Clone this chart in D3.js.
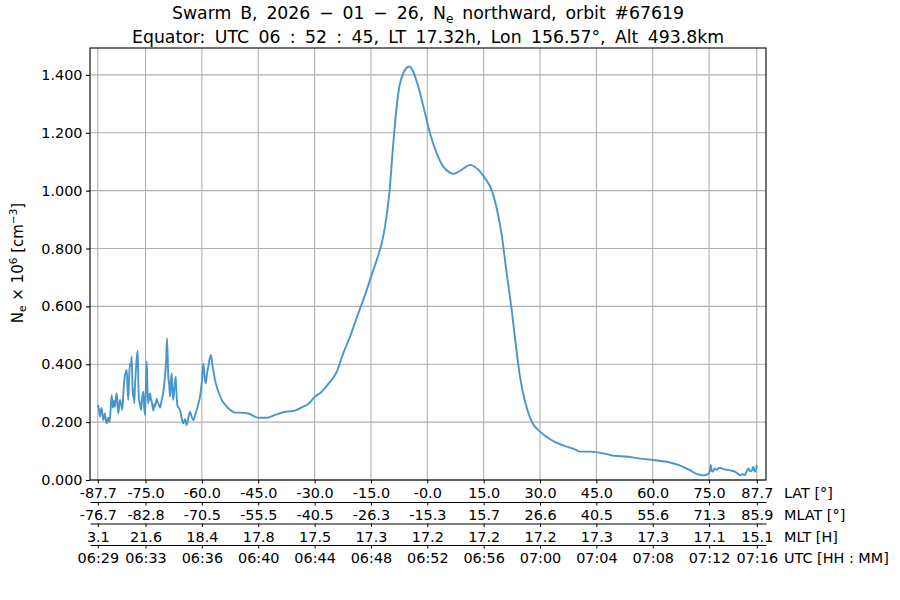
<!DOCTYPE html>
<html><head><meta charset="utf-8">
<script src="https://cdn.jsdelivr.net/npm/d3@7"></script>
<style>
body{margin:0;background:#fff;}
svg text{font-family:"DejaVu Sans",sans-serif;white-space:pre;}
</style></head>
<body><svg id="c" width="900" height="600"></svg>
<script>
// along-track latitude (deg) and electron density (x10^6 cm^-3)
const lat = [-87.70,-87.40,-87.12,-86.90,-86.67,-86.45,-86.24,-86.00,-85.80,-85.55,-85.33,-85.10,-84.90,-84.68,-84.46,-84.20,-84.00,-83.75,-83.55,-83.33,-83.13,-82.90,-82.67,-82.45,-82.25,-82.00,-81.79,-81.50,-81.18,-80.90,-80.65,-80.30,-80.01,-79.80,-79.58,-79.35,-79.13,-78.90,-78.68,-78.41,-78.20,-77.99,-77.80,-77.62,-77.35,-77.08,-76.90,-76.74,-76.45,-76.20,-75.90,-75.59,-75.35,-75.14,-74.90,-74.69,-74.45,-74.26,-74.00,-73.80,-73.55,-73.36,-73.10,-72.90,-72.70,-72.48,-72.25,-72.00,-71.80,-71.60,-71.35,-71.10,-70.90,-70.69,-70.30,-70.00,-69.75,-69.55,-69.28,-68.94,-68.70,-68.49,-68.25,-68.03,-67.80,-67.61,-67.30,-66.97,-66.75,-66.54,-66.20,-65.82,-65.40,-64.95,-64.50,-64.04,-63.60,-63.16,-62.70,-62.28,-61.80,-61.38,-60.90,-60.50,-60.00,-59.62,-59.30,-58.98,-58.60,-58.29,-57.90,-57.57,-57.25,-56.96,-56.50,-56.06,-55.40,-54.72,-53.80,-52.97,-51.18,-49.85,-47.64,-44.98,-42.75,-40.54,-38.33,-35.21,-33.43,-31.67,-29.89,-28.11,-26.35,-24.11,-22.36,-20.57,-18.37,-16.58,-14.80,-13.47,-12.14,-11.26,-10.11,-9.05,-8.33,-7.45,-6.39,-4.79,-3.73,-2.40,-0.61,0.72,2.50,4.26,6.04,7.00,7.83,9.16,11.37,13.15,15.36,17.14,18.47,19.80,21.13,22.46,23.61,24.67,26.00,27.79,30.00,32.66,35.77,39.31,40.64,43.31,46.85,49.51,53.07,56.61,60.15,63.72,66.81,69.47,71.71,73.46,74.79,75.20,75.43,75.70,75.96,76.50,77.03,77.70,78.36,79.20,80.12,81.00,81.90,82.60,83.23,84.00,84.56,85.00,85.44,85.90,86.34,86.77,87.10,87.41,87.68];
const ne = [0.259,0.245,0.219,0.240,0.249,0.225,0.207,0.222,0.230,0.205,0.196,0.208,0.215,0.200,0.214,0.262,0.294,0.250,0.260,0.275,0.253,0.282,0.300,0.262,0.230,0.258,0.277,0.262,0.242,0.300,0.346,0.372,0.380,0.320,0.277,0.360,0.403,0.395,0.426,0.288,0.312,0.265,0.330,0.369,0.420,0.447,0.330,0.277,0.262,0.242,0.285,0.305,0.250,0.225,0.330,0.409,0.300,0.265,0.290,0.300,0.278,0.271,0.252,0.240,0.262,0.253,0.268,0.280,0.270,0.265,0.255,0.250,0.262,0.277,0.300,0.334,0.370,0.403,0.490,0.357,0.330,0.288,0.340,0.369,0.300,0.277,0.320,0.357,0.300,0.259,0.250,0.242,0.215,0.196,0.210,0.190,0.215,0.236,0.218,0.207,0.225,0.242,0.265,0.288,0.340,0.403,0.360,0.334,0.372,0.392,0.420,0.432,0.400,0.380,0.345,0.323,0.298,0.277,0.260,0.248,0.233,0.233,0.230,0.215,0.215,0.225,0.234,0.240,0.251,0.263,0.288,0.305,0.332,0.374,0.438,0.495,0.576,0.639,0.709,0.760,0.818,0.876,0.991,1.164,1.268,1.359,1.406,1.429,1.411,1.359,1.268,1.198,1.129,1.083,1.062,1.058,1.062,1.072,1.089,1.077,1.043,1.002,0.939,0.847,0.714,0.588,0.461,0.357,0.271,0.202,0.167,0.141,0.121,0.106,0.098,0.098,0.092,0.084,0.081,0.074,0.069,0.063,0.052,0.037,0.021,0.016,0.021,0.030,0.052,0.032,0.029,0.040,0.035,0.042,0.040,0.036,0.035,0.032,0.029,0.022,0.017,0.020,0.017,0.030,0.040,0.030,0.032,0.046,0.030,0.029,0.052];

const tickPos = [-87.7,-75,-60,-45,-30,-15,0,15,30,45,60,75,87.7];
const latLabels  = ["-87.7","-75.0","-60.0","-45.0","-30.0","-15.0","-0.0","15.0","30.0","45.0","60.0","75.0","87.7"];
const mlatLabels = ["-76.7","-82.8","-70.5","-55.5","-40.5","-26.3","-15.3","15.7","26.6","40.5","55.6","71.3","85.9"];
const mltLabels  = ["3.1","21.6","18.4","17.8","17.5","17.3","17.2","17.2","17.2","17.3","17.3","17.1","15.1"];
const utcLabels  = ["06:29","06:33","06:36","06:40","06:44","06:48","06:52","06:56","07:00","07:04","07:08","07:12","07:16"];
const yTicks = [0,0.2,0.4,0.6,0.8,1.0,1.2,1.4];
const rowNames = ["LAT [°]","MLAT [°]","MLT [H]","UTC [HH : MM]"];

const FS = 14.4, TFS = 17.3;
const L = 90, R = 766, T = 48, B = 480;
const svg = d3.select("#c");
const x = d3.scaleLinear().domain([-89.78, 90.15]).range([L, R]);
const y = d3.scaleLinear().domain([0, 1.493]).range([B, T]);

// grid
const g = svg.append("g");
g.selectAll(".vg").data(tickPos).join("line")
  .attr("x1", d=>x(d)).attr("x2", d=>x(d)).attr("y1", T).attr("y2", B)
  .attr("stroke", "#b0b0b0").attr("stroke-width", 1.1);
g.selectAll(".hg").data(yTicks).join("line")
  .attr("x1", L).attr("x2", R).attr("y1", d=>y(d)).attr("y2", d=>y(d))
  .attr("stroke", "#b0b0b0").attr("stroke-width", 1.1);

// line
const pts = lat.map((d,i)=>[d, ne[i]]);
svg.append("path").datum(pts)
  .attr("fill","none").attr("stroke","#4896cb").attr("stroke-width",1.9)
  .attr("stroke-linejoin","round")
  .attr("d", d3.line().x(d=>x(d[0])).y(d=>y(d[1])).curve(d3.curveMonotoneX));

// frame
svg.append("rect").attr("x", L).attr("y", T).attr("width", R-L).attr("height", B-T)
  .attr("fill","none").attr("stroke","#000").attr("stroke-width",1.1);

// y axis
const ya = svg.append("g").attr("transform", `translate(${L},0)`)
  .call(d3.axisLeft(y).tickValues(yTicks).tickFormat(d3.format(".3f")).tickSize(4).tickSizeOuter(0).tickPadding(3.5));
ya.select(".domain").remove();
ya.selectAll("text").attr("font-size", FS).attr("fill","#000").attr("font-family","DejaVu Sans");
ya.selectAll("line").attr("stroke","#000").attr("stroke-width",1.1);

// x axis rows
const rows = [latLabels, mlatLabels, mltLabels, utcLabels];
const spineY = [480, 502, 523.5, 545];
rows.forEach((labs, r) => {
  const ax = svg.append("g").attr("transform", `translate(0,${spineY[r]})`)
    .call(d3.axisBottom(x).tickValues(tickPos).tickFormat((d,i)=>labs[i]).tickSize(3.5).tickSizeOuter(0).tickPadding(4.3));
  ax.selectAll("text").attr("font-size", FS).attr("fill","#000").attr("font-family","DejaVu Sans");
  ax.selectAll("line").attr("stroke","#000").attr("stroke-width",1);
  ax.select(".domain").attr("stroke","#000").attr("stroke-width", r===0 ? 0 : 1.1);
  svg.append("text").attr("x", 784).attr("y", spineY[r] + 18)
    .attr("font-size", FS).attr("fill","#000").text(rowNames[r]);
});

// titles (fit to the reference widths via word-spacing)
function fit(sel, target){
  const n = sel.text().split(" ").length - 1;
  const w = sel.node().getComputedTextLength();
  sel.attr("word-spacing", (target - w) / n);
}
const t1 = svg.append("text").attr("x", 428).attr("y", 19).attr("text-anchor","middle").attr("font-size", TFS);
t1.append("tspan").text("Swarm B, 2026 − 01 − 26, N");
t1.append("tspan").attr("font-size", TFS*0.7).attr("dy", 3.5).text("e");
t1.append("tspan").attr("dy", -3.5).text(" northward, orbit #67619");
fit(t1, 512);
const t2 = svg.append("text").attr("x", 428).attr("y", 43).attr("text-anchor","middle").attr("font-size", TFS)
  .text("Equator: UTC 06 : 52 : 45, LT 17.32h, Lon 156.57°, Alt 493.8km");
fit(t2, 592);

// y label
const YFS = 15;
const yl = svg.append("text").attr("transform","translate(23,263) rotate(-90)")
  .attr("text-anchor","middle").attr("font-size", YFS);
yl.append("tspan").text("N");
yl.append("tspan").attr("font-size", YFS*0.7).attr("dy", 3).text("e");
yl.append("tspan").attr("dy", -3).text(" × 10");
yl.append("tspan").attr("font-size", YFS*0.7).attr("dy", -6).text("6");
yl.append("tspan").attr("dy", 6).text(" [cm");
yl.append("tspan").attr("font-size", YFS*0.7).attr("dy", -6).text("−3");
yl.append("tspan").attr("dy", 6).text("]");
</script></body></html>
